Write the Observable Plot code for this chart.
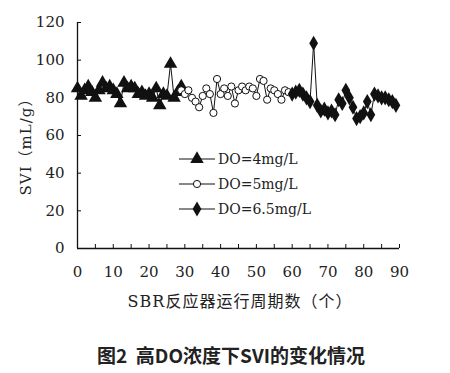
<!DOCTYPE html>
<html><head><meta charset="utf-8">
<script src="https://cdn.jsdelivr.net/npm/d3@7"></script>
<script src="https://cdn.jsdelivr.net/npm/@observablehq/plot@0.6"></script>
<style>
body{margin:0;background:#fff;width:450px;height:373px;position:relative;overflow:hidden}
#chart{position:absolute;left:0;top:0}
#caption{position:absolute;left:0;top:341px;width:462px;text-align:center;font-family:"Noto Sans CJK SC",sans-serif;font-size:19px;font-weight:600;color:#222}
</style></head>
<body>
<div id="chart"></div>
<div id="caption">图2&nbsp; 高DO浓度下SVI的变化情况</div>
<script>
// DO = 4 mg/L
const x4 = [0,1,2,3,4,5,6,7,8,9,10,11,12,13,14,15,16,17,18,19,20,21,22,23,24,25,26,27,28,29];
const y4 = [85,81,84,86,83,80,84,88,85,86,84,82,77,88,85,86,85,82,83,81,82,80,85,76,82,81,98,80,83,86];
// DO = 5 mg/L
const x5 = [29,30,31,32,33,34,35,36,37,38,39,40,41,42,43,44,45,46,47,48,49,50,51,52,53,54,55,56,57,58,59];
const y5 = [84,82,84,80,78,75,81,85,82,72,90,82,85,81,86,77,84,86,84,86,85,81,90,89,79,85,84,82,79,84,83];
// DO = 6.5 mg/L
const x65 = [60,61,62,63,64,65,66,67,68,69,70,71,72,73,74,75,76,77,78,79,80,81,82,83,84,85,86,87,88,89];
const y65 = [82,83,84,82,80,78,109,76,73,74,72,73,71,79,77,84,80,75,69,70,72,78,71,82,81,80,80,79,78,76];

const xTicks = [0,10,20,30,40,50,60,70,80,90];
const xMinorTicks = [0,5,10,15,20,25,30,35,40,45,50,55,60,65,70,75,80,85,90];
const yTicks = [0,20,40,60,80,100,120];
const seriesNames = ["DO=4mg/L","DO=5mg/L","DO=6.5mg/L"];

const s4 = x4.map((x,i)=>({x, y:y4[i]}));
const s5 = x5.map((x,i)=>({x, y:y5[i]}));
const s65 = x65.map((x,i)=>({x, y:y65[i]}));

const W = 450, H = 320, mL = 77, mR = 51, mT = 22, mB = 72;
const fam = '"DejaVu Serif","Noto Sans CJK SC",serif';

const chart = Plot.plot({
  width: W, height: H, marginLeft: mL, marginRight: mR, marginTop: mT, marginBottom: mB,
  x: {domain: [0, 90]},
  y: {domain: [0, 120]},
  style: {fontFamily: fam, fontSize: "14px", background: "white", color: "#222"},
  marks: [
    Plot.ruleX([0], {stroke: "#111", strokeWidth: 1.3}),
    Plot.ruleY([0], {stroke: "#111", strokeWidth: 1.3}),
    Plot.tickY(yTicks, {y: d => d, stroke: "#111", insetRight: W - mL - mR - 4}),
    Plot.tickX(xMinorTicks, {x: d => d, stroke: "#111", insetTop: H - mT - mB - 4}),
    Plot.axisY(yTicks, {tickSize: 0, tickPadding: 13, fontSize: 15, fontFamily: fam, label: null}),
    Plot.axisX(xTicks, {tickSize: 0, tickPadding: 18, fontSize: 15, fontFamily: fam, label: null}),
    Plot.line(s4, {x: "x", y: "y", stroke: "#111", strokeWidth: 1}),
    Plot.line(s5, {x: "x", y: "y", stroke: "#111", strokeWidth: 1}),
    Plot.line(s65, {x: "x", y: "y", stroke: "#111", strokeWidth: 1}),
    Plot.dot(s4, {x: "x", y: "y", symbol: "triangle", fill: "#111", r: 5}),
    Plot.dot(s5, {x: "x", y: "y", symbol: "circle", fill: "white", stroke: "#111", strokeWidth: 1, r: 3.6}),
    Plot.dot(s65, {x: "x", y: "y", symbol: "diamond", fill: "#111", r: 4.6})
  ]
});
document.getElementById("chart").appendChild(chart);

const svg = d3.select(chart);
// axis titles
svg.append("text").attr("transform", "translate(31,143) rotate(-90)")
  .attr("text-anchor", "middle").attr("font-family", fam).attr("font-size", 15)
  .attr("letter-spacing", "1px").attr("fill", "#222").text("SVI（mL/g）");
svg.append("text").attr("x", 240).attr("y", 301).attr("dy", "0.35em")
  .attr("text-anchor", "middle").attr("font-family", fam).attr("font-size", 16)
  .attr("letter-spacing", "1px").attr("fill", "#222").text("SBR反应器运行周期数（个）");

// legend (inside the plot area)
const lg = svg.append("g").attr("font-family", fam).attr("font-size", 14).attr("fill", "#222").attr("text-anchor", "start");
const syms = [
  {sym: d3.symbolTriangle, size: Math.PI*25, fill: "#111", stroke: "none"},
  {sym: d3.symbolCircle, size: Math.PI*3.6*3.6, fill: "white", stroke: "#111"},
  {sym: d3.symbolDiamond, size: Math.PI*4.6*4.6, fill: "#111", stroke: "none"}
];
seriesNames.forEach((name, i) => {
  const yy = 159 + i*25;
  const row = lg.append("g").attr("transform", `translate(0,${yy})`);
  row.append("line").attr("x1", 179).attr("x2", 215).attr("y1", 0).attr("y2", 0).attr("stroke", "#111");
  row.append("path").attr("d", d3.symbol(syms[i].sym, syms[i].size)()).attr("transform", "translate(197,0)")
     .attr("fill", syms[i].fill).attr("stroke", syms[i].stroke);
  row.append("text").attr("x", 218).attr("y", 0).attr("dy", "0.35em").text(name);
});
</script>
</body></html>
